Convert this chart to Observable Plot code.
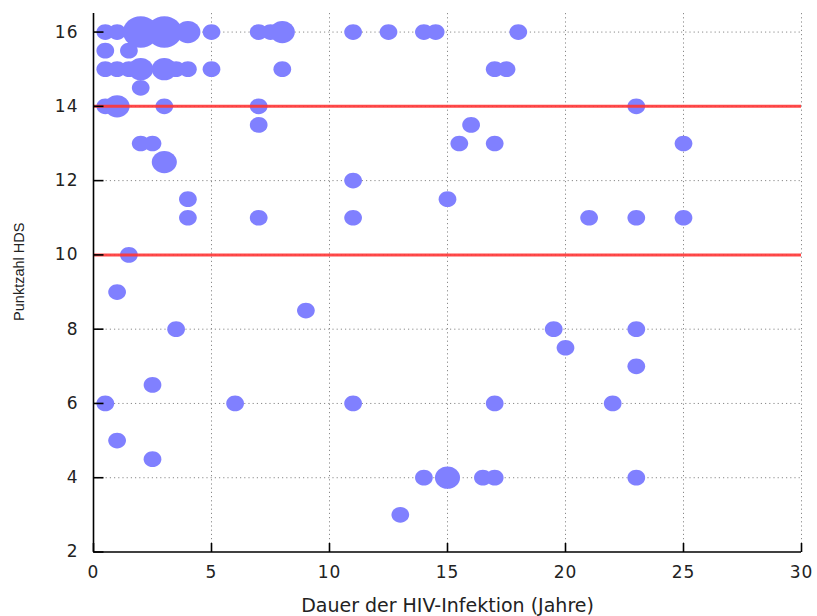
<!DOCTYPE html>
<html>
<head>
<meta charset="utf-8">
<script src="https://cdn.jsdelivr.net/npm/d3@7"></script>
<script src="https://cdn.jsdelivr.net/npm/@observablehq/plot@0.6"></script>
<style>
  html, body { margin: 0; padding: 0; background: #fff; }
  g[aria-label="y-axis tick label"] text, g[aria-label="x-axis tick label"] text { letter-spacing: 1px; }
</style>
</head>
<body>
<div id="chart"></div>
<script>
// Dauer der HIV-Infektion (Jahre), Punktzahl HDS, Anzahl Patienten
const duration = [0.5, 1, 2, 3, 4, 5, 7, 7.5, 8, 11, 12.5, 14, 14.5, 18,
  0.5, 1.5,
  0.5, 1, 1.5, 2, 3, 3.5, 4, 5, 8, 17, 17.5,
  2,
  0.5, 1, 3, 7, 23,
  7, 16,
  2, 2.5, 15.5, 17, 25,
  3,
  11,
  4, 15,
  4, 7, 11, 21, 23, 25,
  1.5,
  1,
  9,
  3.5, 19.5, 23,
  20,
  23,
  2.5,
  0.5, 6, 11, 17, 22,
  1,
  2.5,
  14, 15, 16.5, 17, 23,
  13];
const score = [16, 16, 16, 16, 16, 16, 16, 16, 16, 16, 16, 16, 16, 16,
  15.5, 15.5,
  15, 15, 15, 15, 15, 15, 15, 15, 15, 15, 15,
  14.5,
  14, 14, 14, 14, 14,
  13.5, 13.5,
  13, 13, 13, 13, 13,
  12.5,
  12,
  11.5, 11.5,
  11, 11, 11, 11, 11, 11,
  10,
  9,
  8.5,
  8, 8, 8,
  7.5,
  7,
  6.5,
  6, 6, 6, 6, 6,
  5,
  4.5,
  4, 4, 4, 4, 4,
  3];
const count = [1, 1, 4, 4, 2, 1, 1, 1, 2, 1, 1, 1, 1, 1,
  1, 1,
  1, 1, 1, 2, 2, 1, 1, 1, 1, 1, 1,
  1,
  1, 2, 1, 1, 1,
  1, 1,
  1, 1, 1, 1, 1,
  2,
  1,
  1, 1,
  1, 1, 1, 1, 1, 1,
  1,
  1,
  1,
  1, 1, 1,
  1,
  1,
  1,
  1, 1, 1, 1, 1,
  1,
  1,
  1, 2, 1, 1, 1,
  1];

const xTicks = [0, 5, 10, 15, 20, 25, 30];
const yTicks = [2, 4, 6, 8, 10, 12, 14, 16];
const xGrid = [5, 10, 15, 20, 25, 30];
const yGrid = [4, 6, 8, 10, 12, 14, 16];
const thresholds = [14, 10];
const xTitle = "Dauer der HIV-Infektion (Jahre)";
const yTitle = "Punktzahl HDS";

const points = duration.map((d, i) => ({duration: d, score: score[i], count: count[i]}));

// ellipse-shaped symbol (slightly wider than tall, as in the reference)
const ellipse = {
  draw(ctx, size) {
    const r = Math.sqrt(size / Math.PI);
    const rx = r * 1.063, ry = r / 1.063, k = 0.5523;
    ctx.moveTo(rx, 0);
    ctx.bezierCurveTo(rx, k * ry, k * rx, ry, 0, ry);
    ctx.bezierCurveTo(-k * rx, ry, -rx, k * ry, -rx, 0);
    ctx.bezierCurveTo(-rx, -k * ry, -k * rx, -ry, 0, -ry);
    ctx.bezierCurveTo(k * rx, -ry, rx, -k * ry, rx, 0);
    ctx.closePath();
  }
};

const W = 817, H = 616, ML = 93, MR = 16, MT = 13, MB = 64.5;
const xDomain = [0, 30], yDomain = [2, 16.5];
const frameW = W - ML - MR, frameH = H - MT - MB;
// inward tick lengths (10px / 9px) expressed in data units
const yTickLenData = 10 * (xDomain[1] - xDomain[0]) / frameW;
const xTickLenData = 9 * (yDomain[1] - yDomain[0]) / frameH;

const tickFont = "DejaVu Sans, Verdana, sans-serif";

const chart = Plot.plot({
  width: W,
  height: H,
  marginLeft: ML,
  marginRight: MR,
  marginTop: MT,
  marginBottom: MB,
  style: {fontFamily: tickFont, color: "#222", background: "#fff"},
  x: {domain: xDomain, label: null},
  y: {domain: yDomain, label: null},
  r: {type: "sqrt", domain: [0, 4], range: [0, 16.7]},
  marks: [
    Plot.gridX(xGrid, {stroke: "#8a8a8a", strokeOpacity: 1, strokeDasharray: "1.2,3"}),
    Plot.gridY(yGrid, {stroke: "#8a8a8a", strokeOpacity: 1, strokeDasharray: "1.2,3"}),
    Plot.dot(points, {x: "duration", y: "score", r: "count", symbol: ellipse, fill: "#8080ff", stroke: "none"}),
    Plot.ruleY(thresholds, {stroke: "#ff3535", strokeOpacity: 0.9, strokeWidth: 3}),
    Plot.link(yTicks, {x1: xDomain[0], x2: xDomain[0] + yTickLenData, y1: (d) => d, y2: (d) => d, stroke: "#000", strokeWidth: 1.6}),
    Plot.link(xTicks, {x1: (d) => d, x2: (d) => d, y1: yDomain[0], y2: yDomain[0] + xTickLenData, stroke: "#000", strokeWidth: 1.6}),
    Plot.ruleX([0], {stroke: "#000", strokeWidth: 1.6}),
    Plot.ruleY([2], {stroke: "#000", strokeWidth: 1.6}),
    Plot.axisY({ticks: yTicks, tickSize: 0, tickPadding: 15, fontSize: 17, label: null, fill: "#222"}),
    Plot.axisX({ticks: xTicks, tickSize: 0, tickPadding: 14, fontSize: 17, label: null, fill: "#222"}),
    Plot.text([xTitle], {frameAnchor: "bottom", dy: 59.5, lineAnchor: "bottom", textAnchor: "middle", fontSize: 19, fill: "#222"}),
    Plot.text([yTitle], {frameAnchor: "left", dx: -74, dy: -11, rotate: -90, textAnchor: "middle", lineAnchor: "middle", fontSize: 14.5, fill: "#222", fontFamily: "Liberation Sans, Arial, sans-serif"})
  ]
});

document.getElementById("chart").appendChild(chart);
</script>
</body>
</html>
